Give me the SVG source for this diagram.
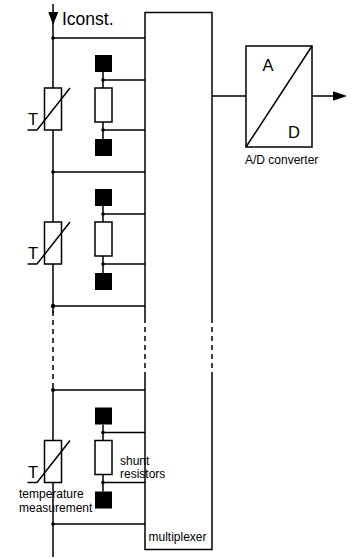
<svg xmlns="http://www.w3.org/2000/svg" width="354" height="558" viewBox="0 0 354 558">
<style>
.w{fill:none;stroke:#000;stroke-width:1.5}
.b{fill:#fff;stroke:#000;stroke-width:1.5}
.d{fill:none;stroke:#000;stroke-width:1.5;stroke-dasharray:5 4}
.k{fill:#000;stroke:none}
text{font-family:"Liberation Sans",Arial,sans-serif;fill:#000}
.l{font-size:12px}
.t{font-size:16.500px}
</style>
<defs>
<g id="therm"><rect class="b" x="44.500" y="0" width="17" height="42"/><path class="w" d="M27.500 42H37L70 0"/></g>
<g id="shunt"><rect class="k" x="95" y="-33" width="17" height="17"/><rect class="k" x="95" y="51" width="17" height="17"/><path class="w" d="M103-16V0M103 34V51M103-8H145M103 42H145"/><rect class="b" x="95" y="0" width="17" height="34"/><circle class="k" cx="103" cy="-8" r="1.800"/><circle class="k" cx="103" cy="42" r="1.800"/></g>
</defs>
<g id="connectors">
<path class="w" d="M53 4V313M53 390V557"/>
<path class="d" d="M53 311V390"/>
<path class="w" d="M53 38H145M53 172H145M53 306H145M53 390H145M53 524H145"/>
<path class="w" d="M212 96H246M312 96H334"/>
<path class="k" d="M48.300 12H58.300L53 25Z"/>
<path class="k" d="M333 91.300L347 96L333 100.700Z"/>
<circle class="k" cx="53" cy="38" r="1.800"/><circle class="k" cx="53" cy="172" r="1.800"/><circle class="k" cx="53" cy="306" r="2.200"/><circle class="k" cx="53" cy="390" r="2"/><circle class="k" cx="53" cy="524" r="1.800"/>
</g>
<g id="multiplexer">
<path class="w" d="M145 318V12.500H212V318M145 375V549.500H212V375"/>
<path class="d" d="M145 318V375M212 318V375"/>
<text class="l" x="148.500" y="541">multiplexer</text>
</g>
<g id="current"><text class="t" x="62" y="24.500" style="font-size:17.500px">Iconst.</text></g>
<g id="segment1"><use href="#therm" y="88"/><text class="t" x="28" y="125">T</text><use href="#shunt" y="88"/></g>
<g id="segment2"><use href="#therm" y="222"/><text class="t" x="28" y="259">T</text><use href="#shunt" y="222"/></g>
<g id="segment3"><use href="#therm" y="440.500"/><text class="t" x="28" y="477.500">T</text><use href="#shunt" y="440.500"/>
<text class="l" x="120" y="465">shunt</text><text class="l" x="120" y="478">resistors</text>
<text class="l" x="19" y="498">temperature</text><text class="l" x="19" y="511.500">measurement</text></g>
<g id="adc">
<rect class="b" x="246" y="46" width="66" height="101"/><path class="w" d="M246 147L312 46"/>
<text class="t" x="262.500" y="71">A</text><text class="t" x="288" y="137.500">D</text>
<text class="l" x="245" y="163.500">A/D converter</text>
</g>
</svg>
